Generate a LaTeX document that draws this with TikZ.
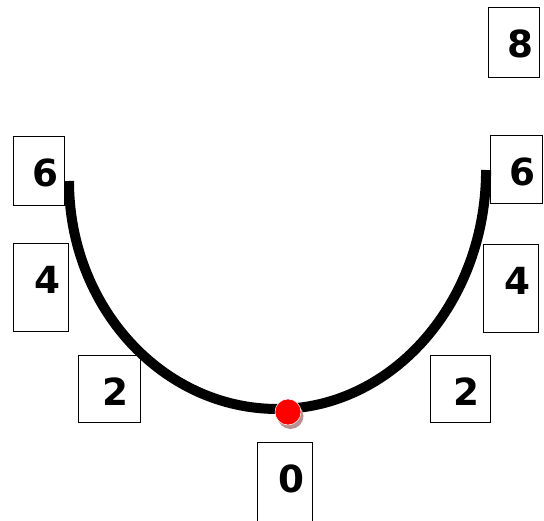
\documentclass[tikz,border=0pt]{standalone}
\usepackage{fontspec}
\setmainfont{DejaVu Sans}
\definecolor{dotred}{HTML}{FF0000}
\definecolor{dotshade}{HTML}{B89090}
\begin{document}
\begin{tikzpicture}[
		x=0.75pt, y=-0.75pt,
		numbox/.style={draw=black, line width=1pt, fill=white, anchor=north west, inner sep=0pt, font=\fontsize{28}{30}\selectfont\bfseries, text height=37.5pt, execute at begin node={\hspace*{9pt}}},
		track/.style={line width=7.5pt, color=black, line cap=butt},
		ball/.style={circle, fill=dotred, draw=white, line width=0.4pt, minimum size=19.5pt, inner sep=0pt}
	]
	\clip (0,0) rectangle (544,521);
	% left side boxes
	\node[numbox, minimum width=38.25pt, minimum height=51.75pt, text depth=14.25pt] (left6) at (13,136) {6};
	\node[numbox, minimum width=41.25pt, minimum height=66pt, text depth=28.5pt] (left4) at (13,243) {4};
	\node[numbox, minimum width=46.5pt, minimum height=50.25pt, text depth=12.75pt] (left2) at (78,355) {2};
	% right side boxes
	\node[numbox, minimum width=38.25pt, minimum height=52.5pt, text depth=15pt] (right8) at (488,7) {8};
	\node[numbox, minimum width=39pt, minimum height=51pt, text depth=13.5pt] (right6) at (490,135) {6};
	\node[numbox, minimum width=41.25pt, minimum height=66pt, text depth=28.5pt] (right4) at (483,244) {4};
	\node[numbox, minimum width=45pt, minimum height=50.25pt, text depth=12.75pt] (right2) at (430,355) {2};
	% bottom box
	\node[numbox, minimum width=41.25pt, minimum height=67.5pt, text depth=30pt] (bottom0) at (257,442) {0};
	% the bowl
	\draw[track] (69,181) arc[start angle=180, end angle=270, x radius=156.4pt, y radius=171pt]
		arc[start angle=270, end angle=360, x radius=156.4pt, y radius=179.25pt];
	% the ball
	\fill[dotshade] (290.5,416) circle[radius=9.75pt];
	\node[ball] (ball) at (288,412) {};
\end{tikzpicture}
\end{document}
